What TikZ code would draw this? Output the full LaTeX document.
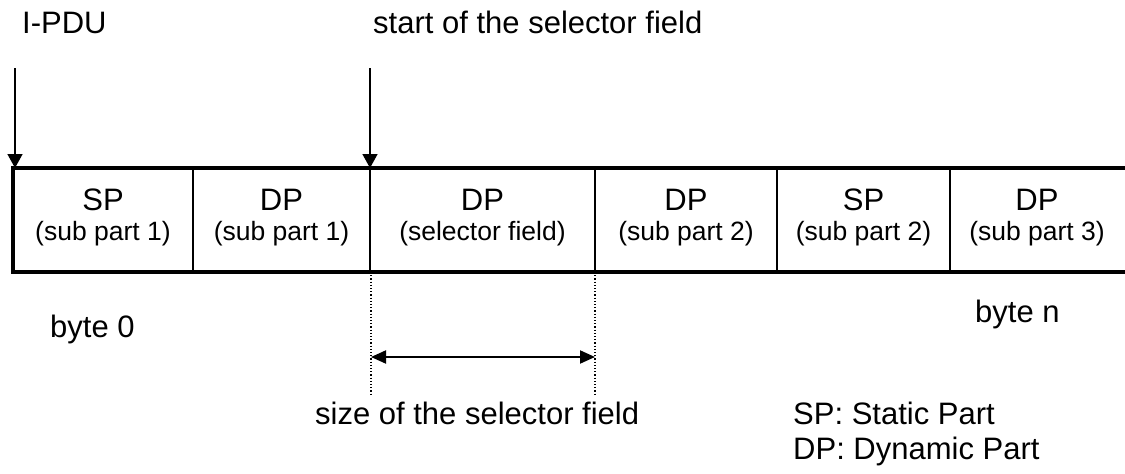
\documentclass[tikz,border=0pt]{standalone}
\usepackage{fontspec}
\setmainfont{Liberation Sans}
\usetikzlibrary{arrows.meta}
\begin{document}
\begin{tikzpicture}[x=1pt,y=-1pt,
  big/.style={font=\fontsize{31}{37}\selectfont, inner sep=0pt},
  small/.style={font=\fontsize{26.5}{32}\selectfont, inner sep=0pt},
  frame/.style={line width=4pt, line join=miter},
  divider/.style={line width=1.5pt},
  pointer/.style={line width=1.5pt, -{Triangle[length=14pt,width=15pt]}},
  dimline/.style={line width=2pt, {Triangle[length=15pt,width=13pt]}-{Triangle[length=15pt,width=13pt]}},
  guide/.style={line width=1.2pt, dotted}]
\useasboundingbox (0,0) rectangle (1125,474);
% frame
\coordinate (tr) at (1125,168);
\coordinate (tl) at (13,168);
\coordinate (bl) at (13,272);
\coordinate (br) at (1125,272);
\draw[frame] (tr) -- (tl) -- (bl) -- (br);
% dividers
\foreach \x/\n in {193/d1,370/d2,595/d3,777/d4,950/d5}{
  \coordinate (\n t) at (\x,168);
  \coordinate (\n b) at (\x,272);
  \draw[divider] (\n t) -- (\n b);
}
% cell texts
\foreach \x/\a/\b/\n in {103/SP/(sub part 1)/c1, 281.5/DP/(sub part 1)/c2, 482.5/DP/(selector field)/c3, 686/DP/(sub part 2)/c4, 863.5/SP/(sub part 2)/c5, 1037/DP/(sub part 3)/c6}{
  \node[big, anchor=base] (\n a) at (\x,210) {\a};
  \node[small, anchor=base] (\n b) at (\x,240) {\b};
}
% top labels
\node[big, anchor=base west] (ipdu) at (22,33) {I-PDU};
\node[big, anchor=base west] (start) at (373,33) {start of the selector field};
% pointers
\coordinate (p1s) at (15,68);
\coordinate (p1e) at (15,168);
\coordinate (p2s) at (370,68);
\coordinate (p2e) at (370,168);
\draw[pointer] (p1s) -- (p1e);
\draw[pointer] (p2s) -- (p2e);
% byte labels
\node[big, anchor=base west] (byte0) at (50,337) {byte 0};
\node[big, anchor=base west] (byten) at (975,322) {byte n};
% dotted guides
\coordinate (g1t) at (371,272);
\coordinate (g1b) at (371,395);
\coordinate (g2t) at (595,272);
\coordinate (g2b) at (595,395);
\draw[guide] (g1t) -- (g1b);
\draw[guide] (g2t) -- (g2b);
\coordinate (a1) at (371,357);
\coordinate (a2) at (595,357);
\draw[dimline] (a1) -- (a2);
% bottom labels
\node[big, anchor=base west] (size) at (315,424) {size of the selector field};
\node[big, anchor=base west] (leg1) at (793,424) {SP: Static Part};
\node[big, anchor=base west] (leg2) at (793,459) {DP: Dynamic Part};
\end{tikzpicture}
\end{document}
